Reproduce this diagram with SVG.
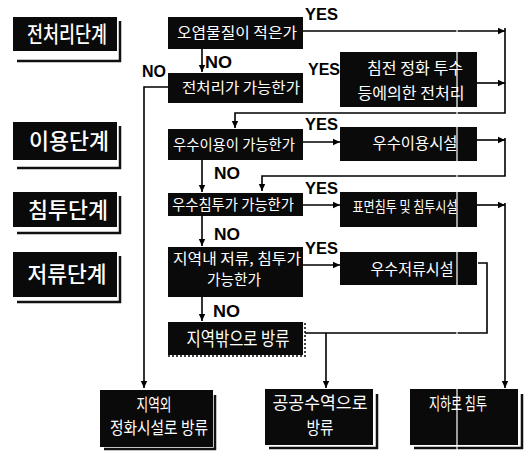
<svg xmlns="http://www.w3.org/2000/svg" width="529" height="453" viewBox="0 0 529 453">
<style>
.box{fill:#0a0a0a}
.sh{fill:none;stroke:#111;stroke-width:2.5}
.t{fill:#fff;font-family:"Noto Sans CJK KR","Noto Sans",sans-serif;font-size:15px;text-anchor:middle}
.st{fill:#fff;font-family:"Noto Sans CJK KR","Noto Sans",sans-serif;font-size:22px;font-weight:500;text-anchor:middle}
.lb{fill:#000;font-family:"Liberation Sans",Arial,sans-serif;font-size:17px;font-weight:bold}
.c{fill:none;stroke:#000;stroke-width:1.6}
</style>
<defs>
<marker id="ah" markerWidth="8" markerHeight="8" refX="7" refY="4" orient="auto" markerUnits="userSpaceOnUse">
<path d="M0,0.8 L7,4 L0,7.2 Z" fill="#000"/>
</marker>
</defs>
<rect width="529" height="453" fill="#fff"/>

<g id="stage1"><path class="sh" d="M17,61 H120 V21"/><rect class="box" x="13" y="17" width="104" height="34"/><text class="st" x="67" y="42" textLength="80" lengthAdjust="spacingAndGlyphs">전처리단계</text></g>
<g id="stage2"><path class="sh" d="M17,168 H120 V126"/><rect class="box" x="13" y="122" width="104" height="38"/><text class="st" x="69" y="149" textLength="80" lengthAdjust="spacingAndGlyphs">이용단계</text></g>
<g id="stage3"><path class="sh" d="M17,233 H120 V196"/><rect class="box" x="13" y="192" width="104" height="35"/><text class="st" x="68" y="218" textLength="80" lengthAdjust="spacingAndGlyphs">침투단계</text></g>
<g id="stage4"><path class="sh" d="M17,302 H120 V256"/><rect class="box" x="13" y="252" width="104" height="45"/><text class="st" x="67" y="282" textLength="79" lengthAdjust="spacingAndGlyphs">저류단계</text></g>

<g id="q1"><rect class="box" x="168" y="17" width="135" height="32"/><text class="t" x="237" y="38" textLength="120" lengthAdjust="spacingAndGlyphs">오염물질이 적은가</text></g>
<g id="q2"><rect class="box" x="168" y="73" width="135" height="30"/><text class="t" x="241" y="93" textLength="118" lengthAdjust="spacingAndGlyphs">전처리가 가능한가</text></g>
<g id="q3"><rect class="box" x="168" y="129" width="135" height="31"/><text class="t" x="234" y="150" textLength="122" lengthAdjust="spacingAndGlyphs">우수이용이 가능한가</text></g>
<g id="q4"><rect class="box" x="168" y="193" width="135" height="23"/><text class="t" x="233" y="210" textLength="122" lengthAdjust="spacingAndGlyphs">우수침투가 가능한가</text></g>
<g id="q5"><rect class="box" x="168" y="247" width="135" height="50"/><text class="t" x="237" y="264" textLength="128" lengthAdjust="spacingAndGlyphs">지역내 저류, 침투가</text><text class="t" x="234" y="285" textLength="54" lengthAdjust="spacingAndGlyphs">가능한가</text></g>
<g id="q6"><path d="M168,356 H305 V322" fill="none" stroke="#444" stroke-width="2" stroke-dasharray="2,2"/><rect class="box" x="168" y="322" width="135" height="33"/><text class="t" x="238" y="346" style="font-size:19px" textLength="103" lengthAdjust="spacingAndGlyphs">지역밖으로 방류</text></g>

<g id="r1"><rect class="box" x="340" y="52" width="137" height="55"/><text class="t" x="415" y="74" style="font-size:16px" textLength="96" lengthAdjust="spacingAndGlyphs">침전 정화 투수</text><text class="t" x="411" y="99" style="font-size:16px" textLength="107" lengthAdjust="spacingAndGlyphs">등에의한 전처리</text></g>
<g id="r2"><rect class="box" x="340" y="127" width="137" height="34"/><text class="t" x="415" y="149" style="font-size:16px" textLength="85" lengthAdjust="spacingAndGlyphs">우수이용시설</text></g>
<g id="r3"><rect class="box" x="340" y="192" width="137" height="35"/><text class="t" x="405" y="212" textLength="105" lengthAdjust="spacingAndGlyphs">표면침투 및 침투시설</text></g>
<g id="r4"><rect class="box" x="340" y="252" width="137" height="33"/><text class="t" x="412" y="275" style="font-size:16px" textLength="83" lengthAdjust="spacingAndGlyphs">우수저류시설</text></g>

<g id="e1"><path class="sh" d="M104,449 H215 V395"/><rect class="box" x="100" y="390" width="113" height="57"/><text class="t" x="154" y="411" style="font-size:17px" textLength="35" lengthAdjust="spacingAndGlyphs">지역외</text><text class="t" x="159" y="434" style="font-size:17px" textLength="98" lengthAdjust="spacingAndGlyphs">정화시설로 방류</text></g>
<g id="e2"><path class="sh" d="M269,448 H377 V394"/><rect class="box" x="265" y="389" width="108" height="56"/><text class="t" x="320" y="409" style="font-size:17px" textLength="95" lengthAdjust="spacingAndGlyphs">공공수역으로</text><text class="t" x="320" y="434" style="font-size:17px" textLength="27" lengthAdjust="spacingAndGlyphs">방류</text></g>
<g id="e3"><path class="sh" d="M414,448 H522 V394"/><rect class="box" x="410" y="389" width="108" height="56"/><text class="t" x="458" y="410" style="font-size:17px" textLength="58" lengthAdjust="spacingAndGlyphs">지하로 침투</text></g>

<g id="connectors">
<path class="c" d="M303,31 H505" marker-end="url(#ah)"/>
<path class="c" d="M477,83 H505" marker-end="url(#ah)"/>
<path class="c" d="M505,28 V113 H235 V128" marker-end="url(#ah)"/>
<path class="c" d="M202,49 V72" marker-end="url(#ah)"/>
<path class="c" d="M168,87 H144 V388" marker-end="url(#ah)"/>
<path class="c" d="M303,142 H340" marker-end="url(#ah)"/>
<path class="c" d="M477,140 H505" marker-end="url(#ah)"/>
<path class="c" d="M505,138 V176 H262 V191" marker-end="url(#ah)"/>
<path class="c" d="M202,160 V192" marker-end="url(#ah)"/>
<path class="c" d="M303,205 H340" marker-end="url(#ah)"/>
<path class="c" d="M477,205 H505" marker-end="url(#ah)"/>
<path class="c" d="M505,203 V388" marker-end="url(#ah)"/>
<path class="c" d="M202,216 V246" marker-end="url(#ah)"/>
<path class="c" d="M303,265 H340" marker-end="url(#ah)"/>
<path class="c" d="M202,297 V321" marker-end="url(#ah)"/>
<path class="c" d="M478,263 H487 V333 H305"/>
<path class="c" d="M326,333 V388" marker-end="url(#ah)"/>
<text class="lb" x="305" y="20" textLength="33" lengthAdjust="spacingAndGlyphs">YES</text>
<text class="lb" x="308" y="75" textLength="32" lengthAdjust="spacingAndGlyphs">YES</text>
<text class="lb" x="305" y="130" textLength="33" lengthAdjust="spacingAndGlyphs">YES</text>
<text class="lb" x="305" y="194" textLength="33" lengthAdjust="spacingAndGlyphs">YES</text>
<text class="lb" x="305" y="254" textLength="33" lengthAdjust="spacingAndGlyphs">YES</text>
<text class="lb" x="205" y="68" textLength="27" lengthAdjust="spacingAndGlyphs">NO</text>
<text class="lb" x="142" y="77" textLength="24" lengthAdjust="spacingAndGlyphs">NO</text>
<text class="lb" x="214" y="179" textLength="26" lengthAdjust="spacingAndGlyphs">NO</text>
<text class="lb" x="214" y="240" textLength="26" lengthAdjust="spacingAndGlyphs">NO</text>
<text class="lb" x="213" y="317" textLength="27" lengthAdjust="spacingAndGlyphs">NO</text>
</g>
<line x1="457" y1="0" x2="457" y2="453" stroke="#fff" stroke-width="1.2"/>
</svg>
